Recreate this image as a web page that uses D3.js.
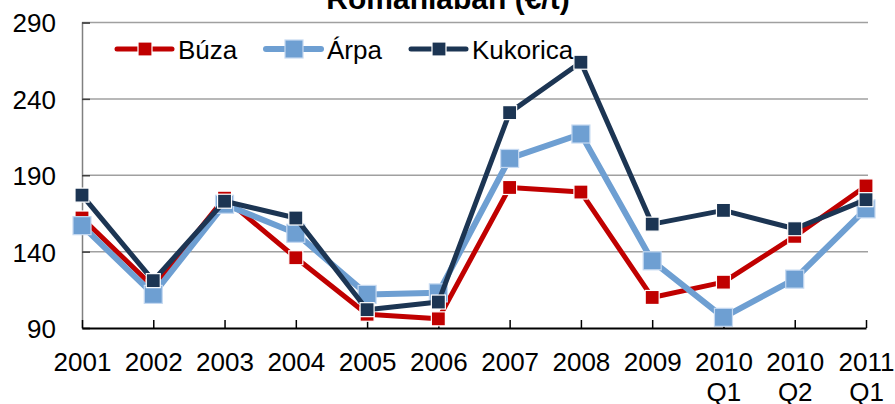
<html>
<head>
<script src="https://cdnjs.cloudflare.com/ajax/libs/d3/7.8.5/d3.min.js"></script>
<style>
  body { margin: 0; background: #fff; }
  text { font-family: "Liberation Sans", Arial, sans-serif; }
</style>
</head>
<body>
<svg id="chart"></svg>
<script>

    var width = 895,
        height = 404;

    // categories and tick labels
    var years = ["2001", "2002", "2003", "2004", "2005", "2006", "2007", "2008", "2009", "2010 Q1", "2010 Q2", "2011 Q1"];
    var yTicks = [90, 140, 190, 240, 290];

    // series values (EUR/t)
    var buza     = [162, 117, 175, 136, 99, 96, 182, 179, 110, 120, 150, 183];
    var arpa     = [157, 112, 171, 152, 112, 113, 201, 217, 134, 97, 122, 168];
    var kukorica = [177, 121, 173, 162, 102, 107, 231, 264, 158, 167, 155, 174];

    var series = [
        {name: "Búza", values: buza, color: "#c00000", lw: 5, size: 14, stroke: "#ffffff"},
        {name: "Árpa", values: arpa, color: "#6e9fd2", lw: 6, size: 18, stroke: "#c5d9f1"},
        {name: "Kukorica", values: kukorica, color: "#1c3553", lw: 5, size: 14, stroke: "#ffffff"}
    ];

    var x = d3.scalePoint()
        .domain(years)
        .range([82, 866]);

    var y = d3.scaleLinear()
        .domain([90, 290])
        .range([328, 22.5]);

    var svg = d3.select("#chart")
        .attr("width", width)
        .attr("height", height);

    // title, mostly cut off at the top (as in the original)
    svg.append("text")
        .attr("x", 448)
        .attr("y", 9)
        .attr("text-anchor", "middle")
        .style("font-size", "30px")
        .style("font-weight", "bold")
        .text("Romániában (€/t)");

    // grid lines
    svg.append("g")
        .selectAll("line")
        .data(yTicks.slice(1))
        .enter().append("line")
        .attr("x1", 82)
        .attr("x2", 868)
        .attr("y1", function(d) { return y(d); })
        .attr("y2", function(d) { return y(d); })
        .style("stroke", "#a0a0a0")
        .style("stroke-width", 1.5);

    // y axis
    var yAxis = svg.append("g")
        .attr("transform", "translate(82,0)")
        .call(d3.axisLeft(y).tickValues(yTicks).tickSize(-8).tickPadding(26));
    yAxis.select(".domain").style("stroke", "#808080").style("stroke-width", 1.5);
    yAxis.selectAll(".tick line").style("stroke", "#404040").style("stroke-width", 1.5);
    yAxis.selectAll("text")
        .style("font-size", "26px")
        .style("fill", "#000")
        .attr("dy", "0.36em");

    // x axis
    var xAxis = svg.append("g")
        .attr("transform", "translate(0,328)")
        .call(d3.axisBottom(x).tickSize(-8).tickSizeOuter(0));
    xAxis.select(".domain").style("stroke", "#000").style("stroke-width", 2);
    xAxis.selectAll(".tick line").style("stroke", "#000").style("stroke-width", 1.5);
    xAxis.selectAll("text").remove();
    xAxis.selectAll(".tick").each(function(d) {
        var parts = d.split(" ");
        var t = d3.select(this).append("text")
            .attr("text-anchor", "middle")
            .style("font-size", "26px")
            .style("fill", "#000");
        parts.forEach(function(p, i) {
            t.append("tspan")
                .attr("x", 0)
                .attr("y", 43 + i * 30)
                .text(p);
        });
    });

    var line = d3.line()
        .x(function(d, i) { return x(years[i]); })
        .y(function(d) { return y(d); });

    series.forEach(function(s) {
        var g = svg.append("g").attr("class", "series");
        g.append("path")
            .datum(s.values)
            .attr("d", line)
            .style("fill", "none")
            .style("stroke", s.color)
            .style("stroke-width", s.lw)
            .style("stroke-linejoin", "round");
        g.selectAll("rect")
            .data(s.values)
            .enter().append("rect")
            .attr("x", function(d, i) { return x(years[i]) - s.size / 2; })
            .attr("y", function(d) { return y(d) - s.size / 2; })
            .attr("width", s.size)
            .attr("height", s.size)
            .style("fill", s.color)
            .style("stroke", s.stroke)
            .style("stroke-width", 1.2);
    });

    // legend
    var legendX = [117, 266, 411];
    var legend = svg.append("g")
        .selectAll("g")
        .data(series)
        .enter().append("g")
        .attr("transform", function(d, i) { return "translate(" + legendX[i] + ",49)"; });
    legend.append("line")
        .attr("x1", 0)
        .attr("x2", 55)
        .style("stroke", function(d) { return d.color; })
        .style("stroke-width", function(d) { return d.lw; })
        .style("stroke-linecap", "round");
    legend.append("rect")
        .attr("x", function(d) { return 28 - d.size / 2; })
        .attr("y", function(d) { return -d.size / 2; })
        .attr("width", function(d) { return d.size; })
        .attr("height", function(d) { return d.size; })
        .style("fill", function(d) { return d.color; })
        .style("stroke", function(d) { return d.stroke; })
        .style("stroke-width", 1.2);
    legend.append("text")
        .attr("x", 61)
        .attr("y", 10)
        .style("font-size", "26px")
        .text(function(d) { return d.name; });

</script>
</body>
</html>
